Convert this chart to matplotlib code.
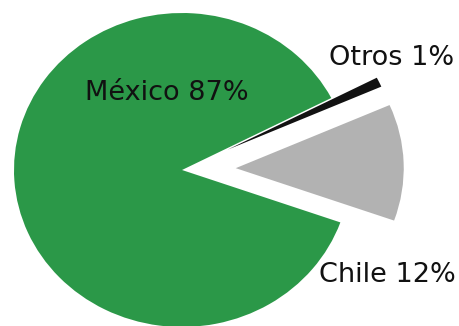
import matplotlib.pyplot as plt

# pie data
labels = ['Chile', 'Otros', 'México']
shares = [12, 1, 87]
colors = ['#b2b2b2', '#121212', '#2b9848']
explode = [0.32, 0.30, 0.0]

# label positions (axes fraction, baseline)
label_pos = {'México': (0.364, 0.693), 'Otros': (0.852, 0.801), 'Chile': (0.843, 0.135)}

fig = plt.figure(figsize=(4.59, 3.26), dpi=100)
ax = fig.add_axes([0, 0, 1, 1])

ax.pie(shares, colors=colors, explode=explode, startangle=-19.5,
       counterclock=True, radius=1.0,
       wedgeprops=dict(linewidth=0, antialiased=True))

# pie in the picture is slightly squashed vertically
ax.set_aspect('auto')
ax.set_xlim(-182 / 168, 277 / 168)
ax.set_ylim(-156 / 157, 170 / 157)
ax.axis('off')

for name, val in zip(labels, shares):
    x, y = label_pos[name]
    ax.text(x, y, f'{name} {val}%', transform=ax.transAxes, ha='center',
            va='baseline', fontsize=19.5, color='#111111', family='DejaVu Sans')

fig.savefig('out.png', dpi=100)
